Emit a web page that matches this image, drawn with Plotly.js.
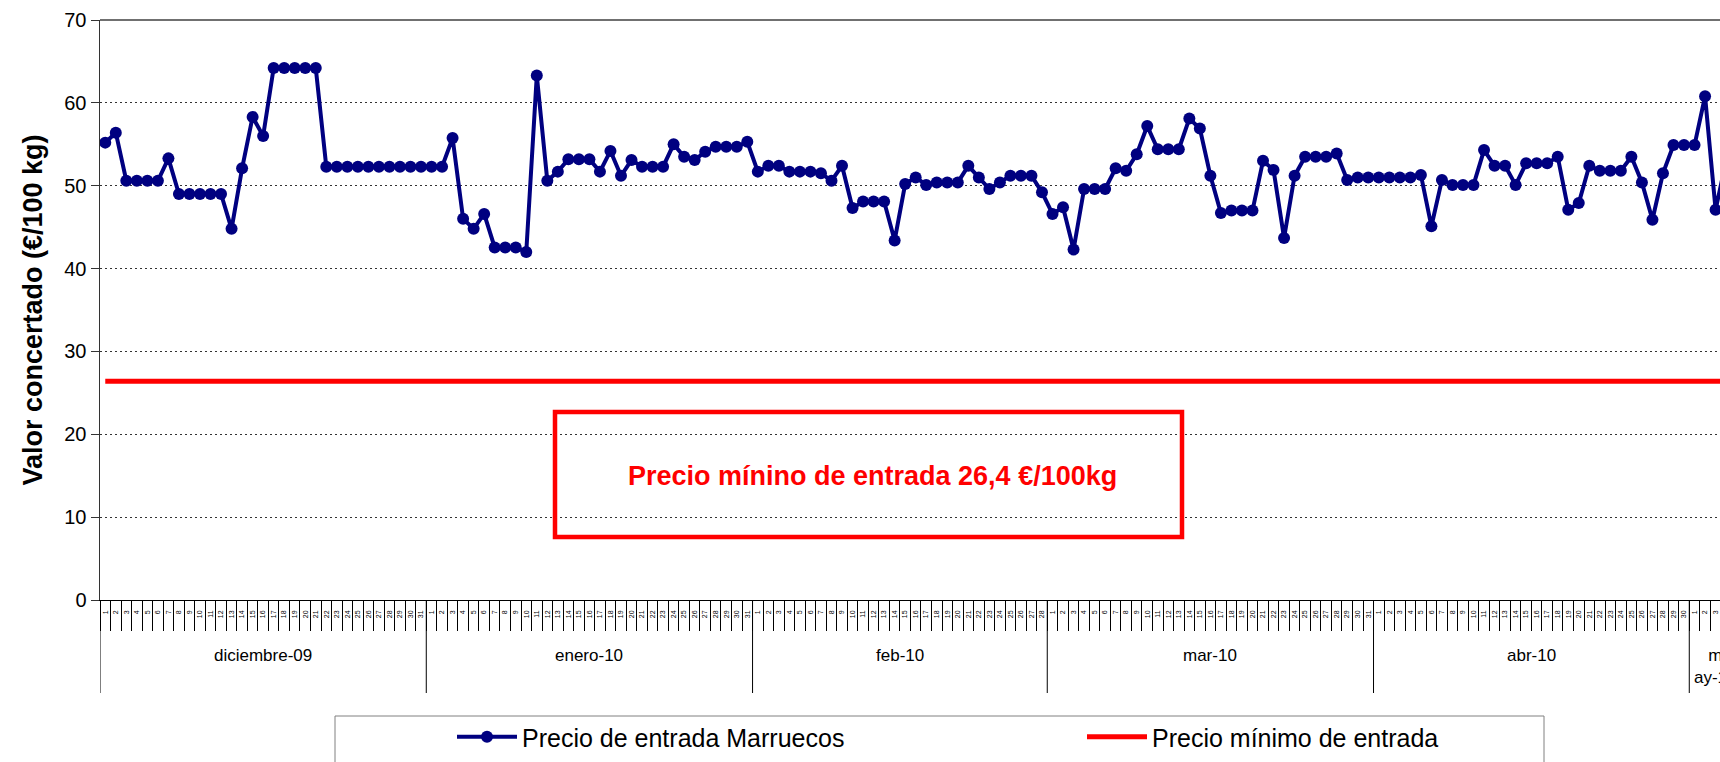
<!DOCTYPE html>
<html><head><meta charset="utf-8">
<script src="https://cdn.plot.ly/plotly-3.0.1.min.js"></script>
<style>html,body{margin:0;padding:0;background:#fff;overflow:hidden}#chart{width:1720px;height:762px}</style>
</head><body><div id="chart"></div>
<script>
// ---- data ----
const months = ['diciembre-09','enero-10','feb-10','mar-10','abr-10','may-10'];
const monthDays = [31,31,28,31,30,4];
const precioMarruecos = [
  // diciembre-09
  55.2,56.4,50.6,50.6,50.6,50.6,53.3,49.0,49.0,49.0,49.0,49.0,44.8,52.1,58.3,56.0,
  64.2,64.2,64.2,64.2,64.2,52.3,52.3,52.3,52.3,52.3,52.3,52.3,52.3,52.3,52.3,
  // enero-10
  52.3,52.3,55.75,46.0,44.8,46.6,42.55,42.55,42.55,42.0,63.3,50.6,51.7,53.2,53.2,53.2,
  51.7,54.2,51.2,53.1,52.3,52.3,52.3,55.0,53.5,53.1,54.1,54.7,54.7,54.7,55.3,
  // feb-10
  51.7,52.4,52.4,51.7,51.7,51.7,51.5,50.6,52.4,47.3,48.1,48.1,48.1,43.4,50.2,51.0,
  50.1,50.4,50.4,50.4,52.4,51.0,49.6,50.4,51.2,51.2,51.2,49.2,
  // mar-10
  46.6,47.4,42.3,49.6,49.6,49.6,52.1,51.8,53.8,57.2,54.4,54.4,54.4,58.1,56.9,51.2,
  46.7,47.0,47.0,47.0,53.0,51.9,43.7,51.2,53.5,53.5,53.5,53.9,50.7,51.0,51.0,
  // abr-10
  51.0,51.0,51.0,51.0,51.3,45.1,50.7,50.1,50.1,50.1,54.3,52.4,52.4,50.1,52.7,52.7,
  52.7,53.5,47.1,47.9,52.4,51.8,51.8,51.8,53.5,50.4,45.9,51.5,54.9,54.9,
  // may-10
  54.9,60.8,47.1,53.0
];
const precioMinimo = 26.4;
const yTicks = [0,10,20,30,40,50,60,70];
const seriesNames = ['Precio de entrada Marruecos','Precio mínimo de entrada'];
const boxText = 'Precio mínino de entrada 26,4 €/100kg';
const yTitle = 'Valor concertado (€/100 kg)';

// ---- derived ----
const dayIdx = precioMarruecos.map((_, i) => i);
const dayLabels = [];
monthDays.forEach(n => { for (let d = 1; d <= n; d++) dayLabels.push(String(d)); });
const minLine = dayIdx.map(() => precioMinimo);
const boundaries = dayIdx.map(i => i - 0.5).concat([dayIdx.length - 0.5]);

// ---- geometry ----
const W = 1720, H = 762, L = 100, R = 0, T = 20, B = 162;
const PW = W - L - R, PH = H - T - B;
const dayPx = 10.525;
const xRange = [-0.5, -0.5 + PW / dayPx];
const px2x = X => (X - L) / PW;
const px2y = Y => (H - B - Y) / PH;

const FONT = 'Liberation Sans, Arial, sans-serif';

const shapes = [];
const annotations = [];
let start = 0;
months.forEach((m, k) => {
  const n = monthDays[k];
  shapes.push({type:'line', xref:'x', yref:'paper', x0:start-0.5, x1:start-0.5, y0:0, y1:px2y(693),
               line:{color:'#000', width:1}});
  const narrow = n * dayPx < 60;
  annotations.push({xref:'x', yref:'paper', x:start + n/2 - 0.5, y: narrow ? px2y(644) : px2y(655),
    xshift: narrow ? 5 : 0,
    text: narrow ? m.slice(0,1) + '<br>' + m.slice(1) : m,
    showarrow:false, yanchor: narrow ? 'top' : 'middle', valign:'top',
    font:{family:FONT, size:17, color:'#000'}});
  start += n;
});
// top border
shapes.push({type:'line', xref:'paper', yref:'paper', x0:0, x1:1, y0:1, y1:1, line:{color:'#404040', width:1.5}});
// red annotation box
shapes.push({type:'rect', xref:'paper', yref:'paper', x0:px2x(555), x1:px2x(1182), y0:px2y(412), y1:px2y(537),
             line:{color:'#FF0000', width:4.5}, fillcolor:'rgba(0,0,0,0)'});
annotations.push({xref:'paper', yref:'paper', x:px2x(872), y:px2y(475), yanchor:'middle', yshift:-1,
                  text:'<b>'+boxText+'</b>', showarrow:false,
                  font:{family:FONT, size:27, color:'#FF0000'}});
// legend frame
shapes.push({type:'rect', xref:'paper', yref:'paper', x0:px2x(335), x1:px2x(1544), y0:px2y(716), y1:px2y(790),
             line:{color:'#808080', width:1}, fillcolor:'rgba(0,0,0,0)'});

const traces = [
  {x: dayIdx, y: precioMarruecos, name: seriesNames[0], type:'scatter', mode:'lines+markers',
   line:{color:'#000080', width:4}, marker:{color:'#000080', size:12}, legend:'legend', xaxis:'x', yaxis:'y'},
  {x: dayIdx, y: minLine, name: seriesNames[1], type:'scatter', mode:'lines',
   line:{color:'#FF0000', width:5}, legend:'legend2', xaxis:'x2', yaxis:'y'}
];

const layout = {
  width: W, height: H,
  margin:{l:L, r:R, t:T, b:B, pad:0},
  paper_bgcolor:'#fff', plot_bgcolor:'#fff',
  font:{family:FONT, color:'#000'},
  showlegend:true,
  xaxis:{type:'linear', range:xRange, tickmode:'array', tickvals:boundaries, ticks:'outside', ticklen:30,
         tickcolor:'#000', tickwidth:1, showticklabels:false, showline:true, linecolor:'#000', linewidth:1,
         showgrid:false, zeroline:false, fixedrange:true},
  xaxis2:{type:'linear', overlaying:'x', anchor:'y', side:'bottom', range:xRange, tickmode:'array',
          tickvals:dayIdx, ticktext:dayLabels, ticks:'', tickangle:-90, ticklabelstandoff:8,
          tickfont:{family:FONT, size:7, color:'#000'}, showline:false, showgrid:false, zeroline:false},
  yaxis:{range:[0,70], tickmode:'array', tickvals:yTicks, ticks:'outside', ticklen:8, tickcolor:'#333',
         showline:true, linecolor:'#333', linewidth:1.5, showgrid:true, gridcolor:'#333', gridwidth:1,
         griddash:'2px,3px', zeroline:false, tickfont:{family:FONT, size:20, color:'#000'},
         title:{text:'<b>'+yTitle+'</b>', font:{family:FONT, size:27, color:'#000'}, standoff:14}},
  legend:{orientation:'h', x:px2x(452), xanchor:'left', y:px2y(737), yanchor:'middle', itemwidth:60,
          font:{family:FONT, size:25, color:'#000'}, bgcolor:'rgba(0,0,0,0)', borderwidth:0},
  legend2:{orientation:'h', x:px2x(1082), xanchor:'left', y:px2y(737), yanchor:'middle', itemwidth:60,
          font:{family:FONT, size:25, color:'#000'}, bgcolor:'rgba(0,0,0,0)', borderwidth:0},
  shapes: shapes,
  annotations: annotations
};

Plotly.newPlot('chart', traces, layout, {displayModeBar:false, staticPlot:true});
</script></body></html>
